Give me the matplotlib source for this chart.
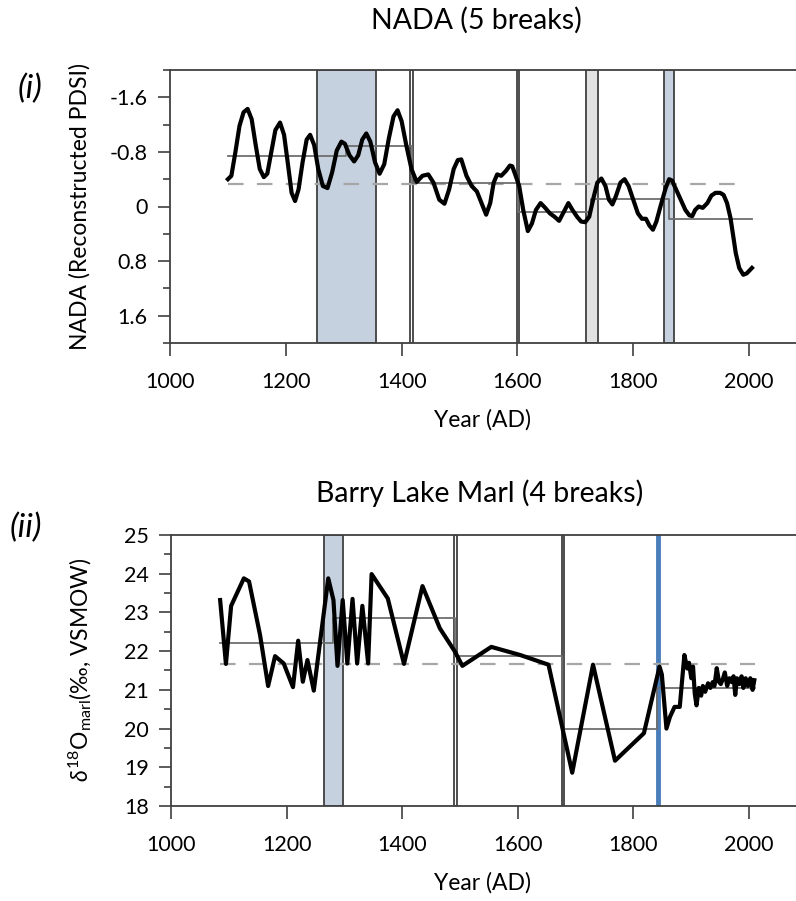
import matplotlib
matplotlib.use('Agg')
import matplotlib.pyplot as plt
from matplotlib.ticker import MultipleLocator

plt.rcParams['font.family'] = ['Lato', 'DejaVu Sans']
plt.rcParams['mathtext.fontset'] = 'custom'
plt.rcParams['mathtext.rm'] = 'Lato'
plt.rcParams['mathtext.it'] = 'Lato:italic'

# NADA reconstructed PDSI (smoothed)
nada_years = [1100, 1106, 1113, 1120, 1127, 1134, 1141, 1148, 1155, 1162, 1168, 1175,
              1182, 1190, 1197, 1204, 1210, 1216, 1222, 1229, 1236, 1242, 1249, 1256,
              1264, 1272, 1280, 1288, 1296, 1302, 1310, 1318, 1325, 1332, 1339, 1346,
              1354, 1362, 1370, 1378, 1386, 1393, 1400, 1408, 1417, 1426, 1436, 1446,
              1455, 1465, 1474, 1482, 1490, 1497, 1503, 1512, 1521, 1530, 1538, 1546,
              1553, 1559, 1565, 1572, 1580, 1587, 1591, 1597, 1603, 1610, 1618, 1625,
              1632, 1640, 1648, 1656, 1664, 1672, 1680, 1688, 1695, 1703, 1710, 1717,
              1724, 1732, 1738, 1745, 1752, 1758, 1764, 1770, 1778, 1785, 1792, 1800,
              1808, 1815, 1822, 1828, 1834, 1840, 1847, 1856, 1862, 1867, 1874, 1882,
              1890, 1897, 1902, 1907, 1913, 1920, 1928, 1935, 1942, 1950, 1956, 1962,
              1968, 1973, 1977, 1983, 1990, 1996, 2005]
nada_vals = [-0.40, -0.45, -0.80, -1.18, -1.38, -1.43, -1.28, -0.90, -0.55, -0.43, -0.48, -0.80,
             -1.12, -1.23, -1.05, -0.60, -0.20, -0.08, -0.25, -0.65, -0.98, -1.05, -0.90, -0.55,
             -0.30, -0.27, -0.50, -0.82, -0.95, -0.92, -0.75, -0.66, -0.75, -0.98, -1.07, -0.95,
             -0.65, -0.48, -0.62, -1.00, -1.32, -1.41, -1.25, -0.90, -0.55, -0.36, -0.45, -0.47,
             -0.35, -0.10, -0.04, -0.25, -0.55, -0.68, -0.69, -0.45, -0.30, -0.22, -0.05, 0.12,
             -0.05, -0.35, -0.47, -0.45, -0.52, -0.60, -0.59, -0.45, -0.30, 0.05, 0.36, 0.25,
             0.05, -0.05, 0.02, 0.10, 0.15, 0.21, 0.08, -0.05, 0.05, 0.15, 0.22, 0.23,
             0.15, -0.15, -0.35, -0.41, -0.30, -0.10, -0.03, -0.15, -0.35, -0.40, -0.30, -0.10,
             0.10, 0.18, 0.18, 0.28, 0.34, 0.22, 0.00, -0.27, -0.40, -0.38, -0.25, -0.10,
             0.05, 0.13, 0.14, 0.05, 0.00, 0.02, -0.05, -0.16, -0.20, -0.20, -0.17, -0.05,
             0.17, 0.45, 0.68, 0.90, 1.00, 0.98, 0.90]
nada_seg_edges = [1100, 1304, 1418, 1601, 1727, 1861, 2005]
nada_seg_means = [-0.74, -0.88, -0.35, 0.08, -0.11, 0.19]
nada_mean = -0.33
nada_mean_span = [1100, 1985]
# break intervals: (start, end, fill colour)
nada_breaks = [(1254, 1355, '#c6d1df'), (1415, 1420, 'white'), (1600, 1602, 'white'),
               (1719, 1739, '#e2e2e2'), (1853, 1870, '#c6d1df')]

# Barry Lake marl d18O
marl_years = [1085, 1095, 1104, 1126, 1135, 1154, 1168, 1180, 1195, 1211, 1220, 1228,
              1236, 1247, 1272, 1281, 1288, 1297, 1305, 1314, 1322, 1331, 1341, 1347,
              1375, 1403, 1435, 1465, 1491, 1504, 1554, 1604, 1653, 1694, 1730, 1768,
              1818, 1845, 1849, 1857, 1863, 1871, 1880, 1888, 1893, 1896, 1900, 1903,
              1906, 1909, 1913, 1917, 1920, 1924, 1929, 1933, 1937, 1940, 1944, 1948,
              1951, 1955, 1958, 1962, 1966, 1970, 1973, 1976, 1979, 1983, 1987, 1990,
              1994, 1998, 2002, 2006, 2009]
marl_vals = [23.32, 21.67, 23.17, 23.88, 23.80, 22.42, 21.10, 21.87, 21.68, 21.07, 22.27, 21.21,
             21.77, 20.98, 23.88, 23.32, 21.62, 23.32, 21.68, 23.35, 21.68, 23.17, 21.68, 23.99,
             23.36, 21.67, 23.68, 22.59, 21.99, 21.62, 22.11, 21.90, 21.65, 18.86, 21.65, 19.17,
             19.88, 21.60, 21.40, 20.00, 20.30, 20.56, 20.56, 21.90, 21.55, 21.70, 21.30, 21.60,
             20.90, 20.60, 21.05, 20.85, 21.10, 20.95, 21.17, 21.05, 21.20, 21.10, 21.56, 21.20,
             21.15, 21.30, 21.45, 21.10, 21.30, 21.20, 21.35, 20.87, 21.30, 21.15, 21.35, 21.05,
             21.30, 21.10, 21.30, 21.00, 21.25]
marl_seg_edges = [1085, 1281, 1491, 1677, 1840, 2010]
marl_seg_means = [22.20, 22.85, 21.87, 20.00, 21.06]
marl_mean = 21.67
marl_mean_span = [1085, 2010]
marl_breaks = [(1264, 1298, '#c6d1df'), (1489, 1494, 'white'), (1676, 1680, 'white')]
marl_blue_break = 1842

W, H = 796, 901
fig = plt.figure(figsize=(W / 100, H / 100), dpi=100)

spine_col = '#404040'


def px_axes(left, top, right, bottom):
    return fig.add_axes([left / W, 1 - bottom / H, (right - left) / W, (bottom - top) / H])


def style(ax):
    ax.spines['right'].set_visible(False)
    for s in ['left', 'top', 'bottom']:
        ax.spines[s].set_color(spine_col)
        ax.spines[s].set_linewidth(1.3)
    ax.tick_params(which='major', direction='out', length=9, width=1.2,
                   color=spine_col, labelsize=15.5, pad=7)
    ax.tick_params(which='minor', direction='out', length=5, width=1.2, color=spine_col)
    ax.tick_params(axis='y', which='both', right=False)
    ax.tick_params(axis='x', which='both', top=False)
    ax.tick_params(axis='x', which='major', pad=12)
    ax.set_xlim(1000, 2088)
    ax.set_xticks([1000, 1200, 1400, 1600, 1800, 2000])


def steps(ax, edges, means):
    ax.step(edges, means + [means[-1]], where='post', color='#6e6e6e', lw=1.3, zorder=3)


# ---- panel (i) NADA ----
ax1 = px_axes(170, 70, 800, 343)
style(ax1)
for a, b, c in nada_breaks:
    ax1.axvspan(a, b, facecolor=c, edgecolor=spine_col, lw=1.3, zorder=1)
ax1.plot(nada_mean_span, [nada_mean, nada_mean], color='#a6a6a6', lw=1.6,
         dashes=(7, 6), zorder=2)
steps(ax1, nada_seg_edges, nada_seg_means)
ax1.plot(nada_years, nada_vals, color='black', lw=3.0, solid_joinstyle='round', zorder=4)
ax1.set_ylim(2.0, -2.0)
ax1.set_yticks([-1.6, -0.8, 0, 0.8, 1.6])
ax1.set_yticklabels(['-1.6', '-0.8', '0', '0.8', '1.6'])
ax1.yaxis.set_minor_locator(MultipleLocator(0.4))

fig.text(476 / W, 1 - 20 / H, 'NADA (5 breaks)', ha='center', va='center', fontsize=20.5)
fig.text(483 / W, 1 - 420 / H, 'Year (AD)', ha='center', va='center', fontsize=16.5)
fig.text(80 / W, 1 - 207 / H, 'NADA (Reconstructed PDSI)', ha='center', va='center',
         rotation=90, fontsize=16.5)
fig.text(30 / W, 1 - 89 / H, '(i)', ha='center', va='center', fontsize=24, style='italic')

# ---- panel (ii) Barry Lake marl ----
ax2 = px_axes(171, 535, 800, 806)
style(ax2)
for a, b, c in marl_breaks:
    ax2.axvspan(a, b, facecolor=c, edgecolor=spine_col, lw=1.3, zorder=1)
ax2.axvline(marl_blue_break, color='#4a7ebb', lw=3.5, zorder=1)
ax2.plot(marl_mean_span, [marl_mean, marl_mean], color='#a6a6a6', lw=1.6,
         dashes=(7, 6), zorder=2)
steps(ax2, marl_seg_edges, marl_seg_means)
ax2.plot(marl_years, marl_vals, color='black', lw=3.0, solid_joinstyle='round', zorder=4)
ax2.set_ylim(18, 25)
ax2.set_yticks(range(18, 26))
ax2.yaxis.set_minor_locator(MultipleLocator(0.5))

fig.text(480 / W, 1 - 493 / H, 'Barry Lake Marl (4 breaks)', ha='center', va='center',
         fontsize=20.5)
fig.text(483 / W, 1 - 883 / H, 'Year (AD)', ha='center', va='center', fontsize=16.5)
fig.text(80 / W, 1 - 670 / H, r'$\mathit{\delta}^{18}$O$_{\mathrm{marl}}$(‰, VSMOW)',
         ha='center', va='center', rotation=90, fontsize=16.5)
fig.text(26 / W, 1 - 528 / H, '(ii)', ha='center', va='center', fontsize=24, style='italic')

fig.savefig('out.png', dpi=100)
